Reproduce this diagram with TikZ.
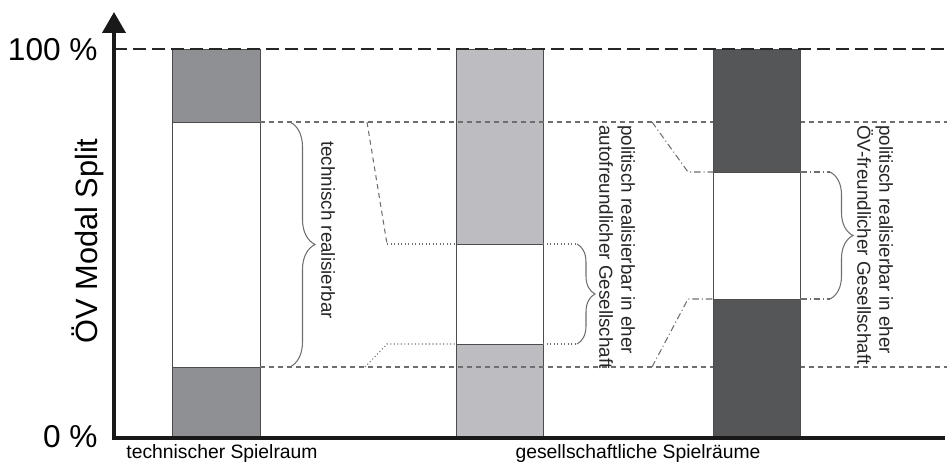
\documentclass[tikz,border=0pt]{standalone}
\usepackage{fontspec}
\setmainfont{Liberation Sans}
\usepackage{tikz}
\usetikzlibrary{positioning}
\usetikzlibrary{arrows.meta}
\usetikzlibrary{decorations.pathreplacing}
\usepackage{xcolor}

\definecolor{barmid}{HTML}{8F9093}
\definecolor{barlight}{HTML}{BDBDC1}
\definecolor{bardark}{HTML}{555658}
\definecolor{guide}{HTML}{6E6E70}

\begin{document}
\begin{tikzpicture}[x=0.02cm, y=-0.02cm,
  bar/.style={draw=black!70, line width=0.5pt},
  level/.style={guide, line width=0.6pt, dash pattern=on 0.1cm off 0.08cm},
  dotline/.style={guide, line width=0.6pt, dash pattern=on 0.6pt off 1.4pt},
  dashdotline/.style={guide, line width=0.6pt, dash pattern=on 0.13cm off 0.06cm on 0.6pt off 0.06cm},
  klammer/.style={guide, line width=0.6pt, decorate, decoration={brace, amplitude=#1}},
  vtext/.style={rotate=-90, align=left, font=\fontsize{10.7}{12.5}\selectfont, text=black!85, inner sep=0pt}]

\useasboundingbox (0,0) rectangle (947,465);

 \begin{scope}
{
% technischer Spielraum
\fill[barmid] (172,49) rectangle (260,122);
\fill[barmid] (172,367) rectangle (260,438);
\draw[bar] (172,49) rectangle (260,438);
\draw[bar] (172,122)--++(88,0);
\draw[bar] (172,367)--++(88,0);

% autofreundlich
\fill[barlight] (456,49) rectangle (543,244);
\fill[barlight] (456,344) rectangle (543,438);
\draw[bar] (456,49) rectangle (543,438);
\draw[bar] (456,244)--++(87,0);
\draw[bar] (456,344)--++(87,0);

\draw[level] (260,122)--(947,122);
\draw[level] (260,367)--(947,367);

% OeV-freundlich
\fill[bardark] (713,49) rectangle (800,172);
\fill[bardark] (713,299) rectangle (800,438);
\draw[bar] (713,49) rectangle (800,438);
\draw[bar] (713,172)--++(87,0);
\draw[bar] (713,299)--++(87,0);

\draw[level] (367,122)--(387,244);
\draw[dotline] (387,244)--++(69,0);
\draw[dotline] (543,244)--++(34,0);
\draw[dotline] (365,367)--(387,344)--++(69,0);
\draw[dotline] (543,344)--++(34,0);

\draw[dashdotline] (652,122)--(688,172)--++(25,0);
\draw[dashdotline] (800,172)--++(30,0);
\draw[dashdotline] (652,367)--(688,299)--++(25,0);
\draw[dashdotline] (800,299)--++(30,0);

\draw[klammer=0.5cm] (290,122)--(290,367);
\draw[klammer=0.36cm] (577,244)--(577,344);
\draw[klammer=0.46cm] (830,172)--(830,299);

\node[vtext] (techtext) at (328,230) {technisch realisierbar};
\node[vtext] (autotext) at (617,247) {politisch realisierbar in eher\\autofreundlicher Gesellschaft};
\node[vtext] (oevtext) at (875,245) {politisch realisierbar in eher\\ÖV-freundlicher Gesellschaft};

% Achsen
\coordinate (origin) at (114,438);
\draw[black!85, line width=1.7pt, dash pattern=on 0.26cm off 0.12cm] (114,49)--(947,49);
\draw[black!90, line width=2.3pt, -{Triangle[width=0.46cm,length=0.42cm]}] (origin)--(114,12);
\draw[black!90, line width=2.3pt] (112,438)--(945,438);

\node[anchor=east, font=\fontsize{18}{20}\selectfont, inner sep=0pt] (hundert) at (98,50) {100 \%};
\node[anchor=east, font=\fontsize{18}{20}\selectfont, inner sep=0pt] (null) at (98,437) {0 \%};
\node[rotate=90, font=\fontsize{17.5}{20}\selectfont, inner sep=0pt] (ylabel) at (88,241) {ÖV Modal Split};

\node[font=\fontsize{11}{12}\selectfont, inner sep=0pt] (techlabel) at (222,454) {technischer Spielraum};
\node[font=\fontsize{11}{12}\selectfont, inner sep=0pt] (gesslabel) at (638,454) {gesellschaftliche Spielräume};
}
\end{scope}

\end{tikzpicture}
\end{document}
